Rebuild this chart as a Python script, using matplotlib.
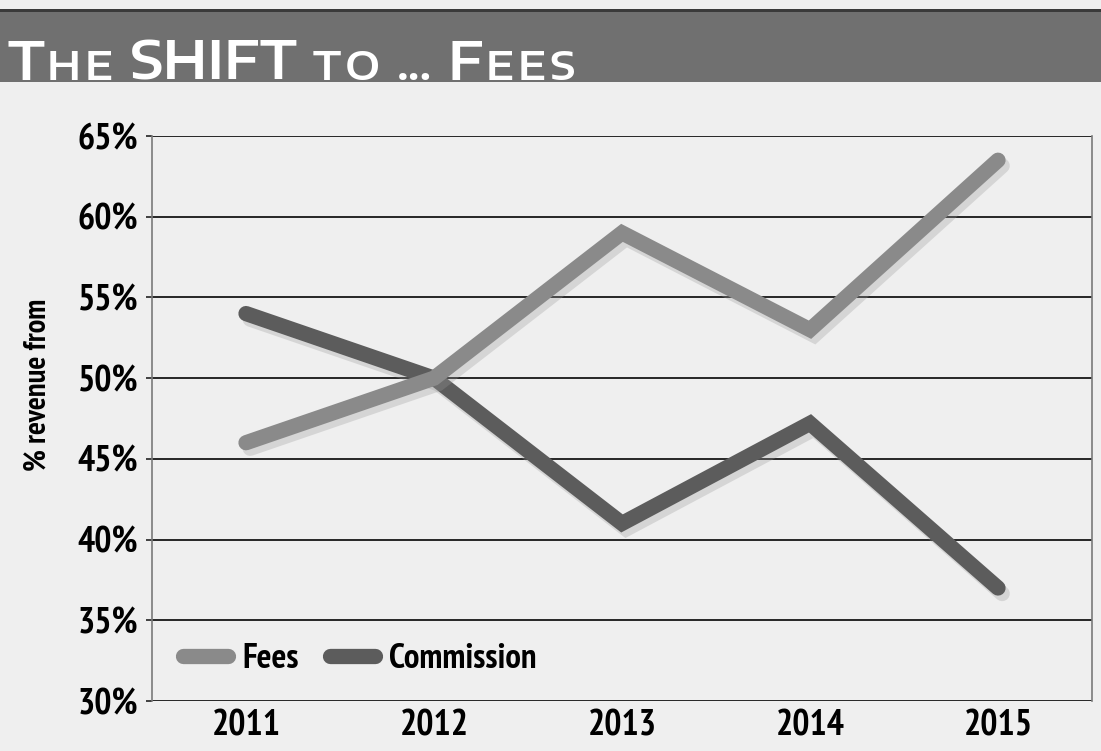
import matplotlib
matplotlib.use('Agg')
import matplotlib.pyplot as plt
import matplotlib.patheffects as pe
from matplotlib.patches import Rectangle

years = ['2011', '2012', '2013', '2014', '2015']
fees = [46.0, 50.0, 59.0, 53.0, 63.5]
commission = [54.0, 50.0, 41.0, 47.2, 37.0]
y_ticks = [30, 35, 40, 45, 50, 55, 60, 65]

bg = '#efefef'
narrow = ['PT Sans Narrow', 'DejaVu Sans']
wide = ['Encode Sans Expanded', 'DejaVu Sans']

fig = plt.figure(figsize=(11.01, 7.51), dpi=100, facecolor=bg)

# title banner across the top
fig.patches.append(Rectangle((0, 1 - 82 / 751), 1, 72 / 751, transform=fig.transFigure,
                             facecolor='#707070', edgecolor='none', zorder=0))
fig.patches.append(Rectangle((0, 1 - 12 / 751), 1, 3 / 751, transform=fig.transFigure,
                             facecolor='#3a3a3a', edgecolor='none', zorder=0))

# small caps title: big words drawn whole, small letters spaced out one by one
big, small = 38, 29
pieces = [('T', big), ('HE', small), (' ', 0), ('SHIFT', big), (' ', 0), ('TO', small),
          (' ', 0), ('...', small), (' ', 0), ('F', big), ('EES', small)]
renderer = fig.canvas.get_renderer()
x = 8
y = 1 - 80 / 751
for txt, size in pieces:
    if txt == ' ':
        x += 13
        continue
    chunks = list(txt) if size == small and txt != '...' else [txt]
    for ch in chunks:
        t = fig.text(x / 1101, y, ch, fontsize=size, color='white', family=wide,
                     fontweight='semibold', ha='left', va='baseline')
        x += t.get_window_extent(renderer).width + (4 if len(chunks) > 1 else 2)

ax = fig.add_axes([152 / 1101, 1 - 701 / 751, 940 / 1101, 565 / 751])
ax.set_facecolor(bg)

xs = range(len(years))
shadow = [pe.SimpleLineShadow(offset=(3, -4), shadow_color='#9a9a9a', alpha=0.3), pe.Normal()]
ax.plot(xs, commission, color='#5c5c5c', lw=11, solid_capstyle='round',
        solid_joinstyle='miter', label='Commission', path_effects=shadow, zorder=3)
ax.plot(xs, fees, color='#8a8a8a', lw=11, solid_capstyle='round',
        solid_joinstyle='miter', label='Fees', path_effects=shadow, zorder=4)

ax.set_xlim(-0.5, len(years) - 0.5)
ax.set_ylim(30, 65)
ax.set_yticks(y_ticks)
ax.set_yticklabels([f'{v}%' for v in y_ticks], fontsize=26, fontweight='bold', family=narrow)
ax.set_xticks(list(xs))
ax.set_xticklabels(years, fontsize=26, fontweight='bold', family=narrow)
ax.tick_params(axis='x', length=0, pad=6)
ax.tick_params(axis='y', length=4, width=1.2, color='#222222', pad=6)

for v in y_ticks:
    ax.axhline(v, color='#262626', lw=1.4, zorder=1)

for side in ['top', 'bottom']:
    ax.spines[side].set_visible(False)
for side in ['left', 'right']:
    ax.spines[side].set_color('#7a7a7a')
    ax.spines[side].set_linewidth(1.2)

fig.text(38 / 1101, 1 - 385 / 751, '% revenue from', rotation=90, fontsize=22,
         fontweight='bold', family=narrow, ha='center', va='center')

handles, labels = ax.get_legend_handles_labels()
leg = ax.legend(handles[::-1], labels[::-1], loc='lower left', bbox_to_anchor=(0.0, -0.01),
                ncol=2, frameon=False, handlelength=1.3, handletextpad=0.4, columnspacing=0.9,
                prop={'family': narrow, 'weight': 'bold', 'size': 25})
for h in leg.get_lines():
    h.set_path_effects([])

fig.savefig('out.png', dpi=100, facecolor=bg)
